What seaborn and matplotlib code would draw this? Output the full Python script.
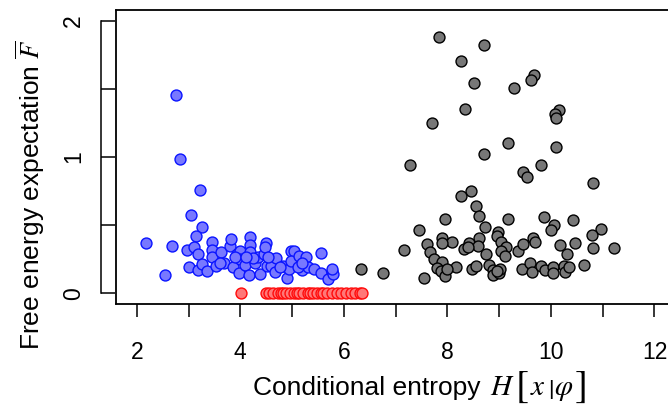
import numpy as np
import pandas as pd
import seaborn as sns
import matplotlib.pyplot as plt

#%% Data
blue_x = [2.76, 2.83, 3.22, 3.04, 3.26, 2.18, 2.69, 2.54, 3.14, 2.97, 3.11, 3.19,
          3.00, 3.18, 3.26, 3.36, 3.46, 3.46, 3.45, 3.53, 3.62, 3.68, 3.81, 3.83,
          3.85, 3.93, 3.97, 4.00, 3.99, 4.10, 4.16, 4.19, 4.18, 4.18, 4.29, 4.34,
          4.38, 4.45, 4.49, 4.47, 4.51, 4.59, 4.68, 4.69, 4.82, 4.90, 4.95, 4.98,
          5.03, 4.98, 5.14, 5.19, 5.27, 5.30, 5.43, 5.56, 5.56, 5.70, 5.78, 5.79,
          5.78, 3.89, 4.24, 4.53, 4.76, 5.11, 5.20, 4.12, 3.60]
blue_y = [1.458, 0.983, 0.757, 0.571, 0.483, 0.365, 0.348, 0.135, 0.420, 0.314,
          0.338, 0.287, 0.189, 0.167, 0.211, 0.164, 0.373, 0.320, 0.262, 0.199,
          0.304, 0.218, 0.346, 0.397, 0.193, 0.287, 0.149, 0.311, 0.248, 0.206,
          0.130, 0.414, 0.353, 0.304, 0.218, 0.267, 0.140, 0.287, 0.370, 0.340,
          0.201, 0.201, 0.154, 0.255, 0.199, 0.113, 0.179, 0.311, 0.311, 0.233,
          0.272, 0.169, 0.262, 0.193, 0.181, 0.296, 0.145, 0.105, 0.164, 0.140,
          0.174, 0.267, 0.255, 0.267, 0.193, 0.193, 0.218, 0.267, 0.218]

red_x = [4.01, 4.50, 4.56, 4.63, 4.72, 4.79, 4.83, 4.88, 4.96, 5.04, 5.10, 5.14,
         5.22, 5.30, 5.35, 5.40, 5.49, 5.55, 5.59, 5.68, 5.78, 5.86, 5.94, 6.04,
         6.13, 6.22, 6.31, 6.36]
red_y = [0.0] * len(red_x)

gray_x = [6.34, 6.76, 7.83, 8.70, 8.27, 8.52, 9.28, 9.68, 9.62, 8.34, 7.70, 10.16,
          10.08, 10.10, 9.18, 10.10, 8.70, 7.27, 9.81, 9.47, 9.54, 10.81, 8.46,
          8.26, 8.55, 8.62, 7.95, 9.18, 9.87, 10.43, 8.72, 10.06, 10.01, 10.96,
          10.79, 7.45, 7.90, 8.08, 7.90, 7.60, 8.62, 8.42, 8.59, 8.33, 8.40, 8.97,
          8.95, 9.04, 9.13, 9.04, 9.12, 9.37, 9.47, 9.66, 9.69, 10.17, 10.47,
          10.31, 10.81, 11.21, 7.17, 7.66, 7.74, 7.90, 7.80, 7.88, 7.95, 8.17,
          7.54, 8.47, 8.55, 8.74, 8.81, 8.89, 8.88, 8.99, 9.02, 8.96, 9.45, 9.60,
          9.64, 9.80, 9.88, 10.04, 10.04, 10.25, 10.27, 10.34, 10.64, 7.99]
gray_y = [0.174, 0.145, 1.880, 1.821, 1.706, 1.544, 1.507, 1.600, 1.564, 1.351,
          1.248, 1.346, 1.316, 1.287, 1.103, 1.076, 1.024, 0.943, 0.943, 0.890,
          0.850, 0.811, 0.750, 0.715, 0.642, 0.566, 0.544, 0.544, 0.561, 0.537,
          0.488, 0.498, 0.466, 0.473, 0.429, 0.461, 0.407, 0.377, 0.365, 0.358,
          0.402, 0.370, 0.348, 0.324, 0.341, 0.451, 0.421, 0.373, 0.338, 0.309,
          0.272, 0.311, 0.358, 0.402, 0.373, 0.351, 0.368, 0.284, 0.328, 0.328,
          0.316, 0.299, 0.248, 0.226, 0.186, 0.164, 0.125, 0.193, 0.110, 0.181,
          0.199, 0.287, 0.204, 0.169, 0.132, 0.145, 0.174, 0.164, 0.181, 0.218,
          0.152, 0.199, 0.169, 0.193, 0.145, 0.199, 0.157, 0.193, 0.206, 0.174]

x_ticks = list(range(2, 13))
x_labels = ['2', '', '4', '', '6', '', '8', '', '10', '', '12']
y_ticks = [0, 0.5, 1, 1.5, 2]
y_labels = ['0', '', '1', '', '2']

#%% Plot
sns.set_style('white')
plt.rcParams['font.family'] = ['Liberation Sans', 'DejaVu Sans']
plt.rcParams['mathtext.fontset'] = 'stix'
for key in ['text.color', 'axes.labelcolor', 'xtick.color', 'ytick.color']:
    plt.rcParams[key] = 'black'

fig = plt.figure(figsize=(6.68, 4.07), dpi=100)
ax = fig.add_axes([0.1737, 0.253, 0.8293, 0.7224])

groups = [
    (gray_x, gray_y, '#777777', 'black'),
    (blue_x, blue_y, '#7878ff', '#0a14ff'),
    (red_x, red_y, '#ff7878', '#ff0a0a'),
]
for gx, gy, face, edge in groups:
    df = pd.DataFrame({'x': gx, 'y': gy})
    sns.scatterplot(data=df, x='x', y='y', ax=ax, color=face, edgecolor=edge,
                    linewidth=1.0, s=62, zorder=3)

ax.set_xlim(1.6, 12.3)
ax.set_ylim(-0.08, 2.08)

ax.set_xticks(x_ticks)
ax.set_xticklabels(x_labels)
ax.set_yticks(y_ticks)
ax.set_yticklabels(y_labels)

for side in ['top', 'right', 'bottom']:
    ax.spines[side].set_visible(True)
    ax.spines[side].set_color('black')
    ax.spines[side].set_linewidth(1.3)
ax.spines['left'].set_position(('outward', 10.5))
ax.spines['left'].set_bounds(0, 2)
ax.spines['left'].set_color('black')
ax.spines['left'].set_linewidth(1.1)
# box side that the offset axis leaves open
ax.plot([0, 0], [0, 1], transform=ax.transAxes, color='black', lw=1.3,
        clip_on=False)

ax.tick_params(axis='y', direction='in', length=10, width=1.1, pad=12,
               labelsize=16.5, labelrotation=90, left=True)
for lab in ax.get_yticklabels():
    lab.set_va('center')
ax.tick_params(axis='x', direction='out', length=9.5, width=1.1, pad=17,
               labelsize=16.5, bottom=True)

ax.set_xlabel('')
ax.set_ylabel(r'Free energy expectation $\overline{F}$', fontsize=19)
ax.yaxis.set_label_coords(-0.124, 0.371)

# x label built from pieces so the brackets can be taller than the text
yb = (304 - 395) / 294
t1 = ax.annotate('Conditional entropy', xy=(0.247, yb), xycoords='axes fraction',
                 ha='left', va='baseline', fontsize=19, annotation_clip=False)
t2 = ax.annotate('$H$', xy=(1, yb), xycoords=(t1, 'axes fraction'),
                 xytext=(7, 0), textcoords='offset points', ha='left',
                 va='baseline', fontsize=21, annotation_clip=False)
t3 = ax.annotate('$[$', xy=(1, yb), xycoords=(t2, 'axes fraction'),
                 xytext=(0, -1.5), textcoords='offset points', ha='left',
                 va='baseline', fontsize=28, annotation_clip=False)
t4 = ax.annotate('$x$', xy=(1, yb), xycoords=(t3, 'axes fraction'),
                 xytext=(1, 0), textcoords='offset points', ha='left',
                 va='baseline', fontsize=21, annotation_clip=False)
t5 = ax.annotate('|', xy=(1, yb), xycoords=(t4, 'axes fraction'),
                 xytext=(2, 0), textcoords='offset points', ha='left',
                 va='baseline', fontsize=15, annotation_clip=False)
t6 = ax.annotate(r'$\varphi$', xy=(1, yb), xycoords=(t5, 'axes fraction'),
                 xytext=(0.5, 0), textcoords='offset points', ha='left',
                 va='baseline', fontsize=21, annotation_clip=False)
t7 = ax.annotate('$]$', xy=(1, yb), xycoords=(t6, 'axes fraction'),
                 xytext=(0, -1.5), textcoords='offset points', ha='left',
                 va='baseline', fontsize=28, annotation_clip=False)

fig.savefig('out.png', dpi=100)
